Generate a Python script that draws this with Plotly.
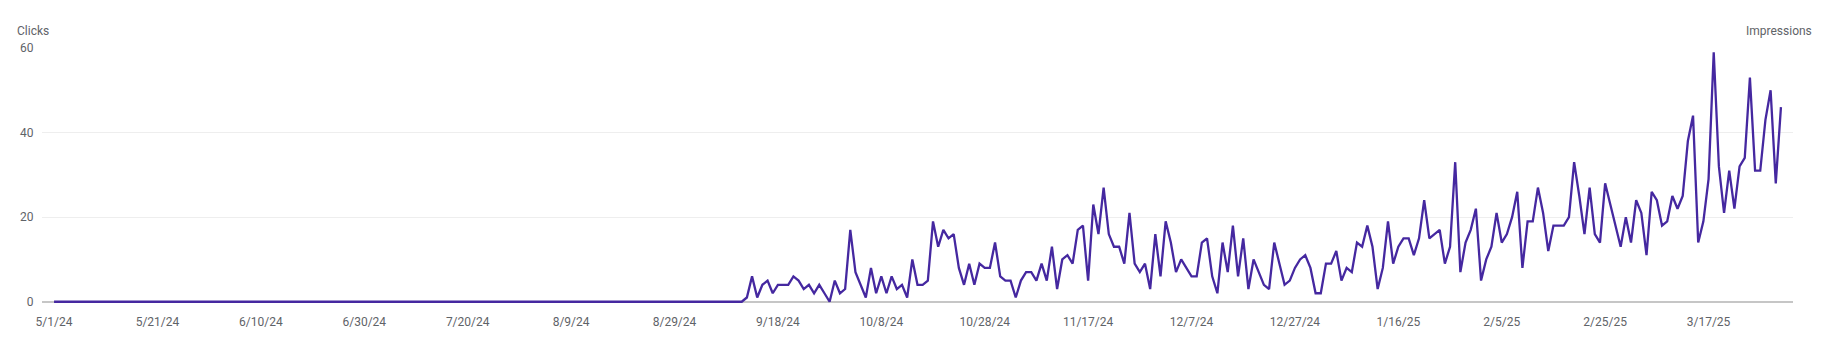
import pandas as pd
import plotly.graph_objects as go

# Daily clicks, 2024-05-01 .. 2025-03-31
start_date = "2024-05-01"
end_date = "2025-03-31"

clicks_early = [
    0, 0, 0, 0, 0, 0, 0, 0, 0, 0, 0, 0, 0, 0, 0, 0, 0, 0, 0, 0,
    0, 0, 0, 0, 0, 0, 0, 0, 0, 0, 0, 0, 0, 0, 0, 0, 0, 0, 0, 0,
    0, 0, 0, 0, 0, 0, 0, 0, 0, 0, 0, 0, 0, 0, 0, 0, 0, 0, 0, 0,
    0, 0, 0, 0, 0, 0, 0, 0, 0, 0, 0, 0, 0, 0, 0, 0, 0, 0, 0, 0,
    0, 0, 0, 0, 0, 0, 0, 0, 0, 0, 0, 0, 0, 0, 0, 0, 0, 0, 0, 0,
    0, 0, 0, 0, 0, 0, 0, 0, 0, 0, 0, 0, 0, 0, 0, 0, 0, 0, 0, 0,
    0, 0, 0, 0, 0, 0, 0, 0, 0, 0, 0, 0, 0, 0,
]

clicks_late = [
    1, 6, 1, 4, 5, 2, 4, 4, 4, 6, 5, 3, 4, 2, 4, 2, 0, 5, 2, 3,
    17, 7, 4, 1, 8, 2, 6, 2, 6, 3, 4, 1, 10, 4, 4, 5, 19, 13, 17, 15,
    16, 8, 4, 9, 4, 9, 8, 8, 14, 6, 5, 5, 1, 5, 7, 7, 5, 9, 5, 13,
    3, 10, 11, 9, 17, 18, 5, 23, 16, 27, 16, 13, 13, 9, 21, 9, 7, 9, 3, 16,
    6, 19, 14, 7, 10, 8, 6, 6, 14, 15, 6, 2, 14, 7, 18, 6, 15, 3, 10, 7,
    4, 3, 14, 9, 4, 5, 8, 10, 11, 8, 2, 2, 9, 9, 12, 5, 8, 7, 14, 13,
    18, 13, 3, 8, 19, 9, 13, 15, 15, 11, 15, 24, 15, 16, 17, 9, 13, 33, 7, 14,
    17, 22, 5, 10, 13, 21, 14, 16, 20, 26, 8, 19, 19, 27, 21, 12, 18, 18, 18, 20,
    33, 25, 16, 27, 16, 14, 28, 23, 18, 13, 20, 14, 24, 21, 11, 26, 24, 18, 19, 25,
    22, 25, 38, 44, 14, 19, 29, 59, 32, 21, 31, 22, 32, 34, 53, 31, 31, 43, 50, 28,
    46,
]

clicks = clicks_early + clicks_late
dates = pd.date_range(start_date, end_date, freq="D")

tick_labels = [
    "5/1/24", "5/21/24", "6/10/24", "6/30/24", "7/20/24", "8/9/24", "8/29/24",
    "9/18/24", "10/8/24", "10/28/24", "11/17/24", "12/7/24", "12/27/24",
    "1/16/25", "2/5/25", "2/25/25", "3/17/25",
]
tick_dates = [pd.to_datetime(t, format="%m/%d/%y") for t in tick_labels]

y_ticks = [0, 20, 40, 60]

LINE = "#4528a0"
TXT = "#5f6368"
FONT = "Roboto"

fig = go.Figure()
fig.add_trace(go.Scatter(
    x=dates, y=clicks, mode="lines",
    line=dict(color=LINE, width=2.3),
    hoverinfo="x+y", showlegend=False,
))

pad = pd.Timedelta(hours=56)
fig.update_layout(
    width=1829, height=355,
    margin=dict(l=42, r=36, t=48, b=52),
    paper_bgcolor="white", plot_bgcolor="white",
    font=dict(family=FONT, size=12, color=TXT),
    xaxis=dict(
        type="date",
        range=[dates[0] - pad, dates[-1] + pad],
        tickvals=tick_dates, ticktext=tick_labels,
        showgrid=False, showline=False, zeroline=False,
        ticks="outside", ticklen=8, tickcolor="rgba(0,0,0,0)",
        tickfont=dict(family=FONT, size=12, color=TXT),
    ),
    yaxis=dict(
        range=[-0.3, 60],
        tickvals=y_ticks,
        showgrid=True, gridcolor="#eeeeee", gridwidth=1,
        zeroline=True, zerolinecolor="#c6c6c6", zerolinewidth=2,
        showline=False,
        ticks="outside", ticklen=5, tickcolor="rgba(0,0,0,0)",
        tickfont=dict(family=FONT, size=12, color=TXT),
    ),
    annotations=[
        dict(text="Clicks", xref="paper", yref="paper",
             x=(15 - 42) / 1751, y=(303 - 31) / 255,
             xanchor="left", yanchor="middle", showarrow=False,
             font=dict(family=FONT, size=12, color=TXT)),
        dict(text="Impressions", xref="paper", yref="paper",
             x=(1814 - 42) / 1751, y=(303 - 31) / 255,
             xanchor="right", yanchor="middle", showarrow=False,
             font=dict(family=FONT, size=12, color=TXT)),
    ],
)

fig.write_html("out.html")
